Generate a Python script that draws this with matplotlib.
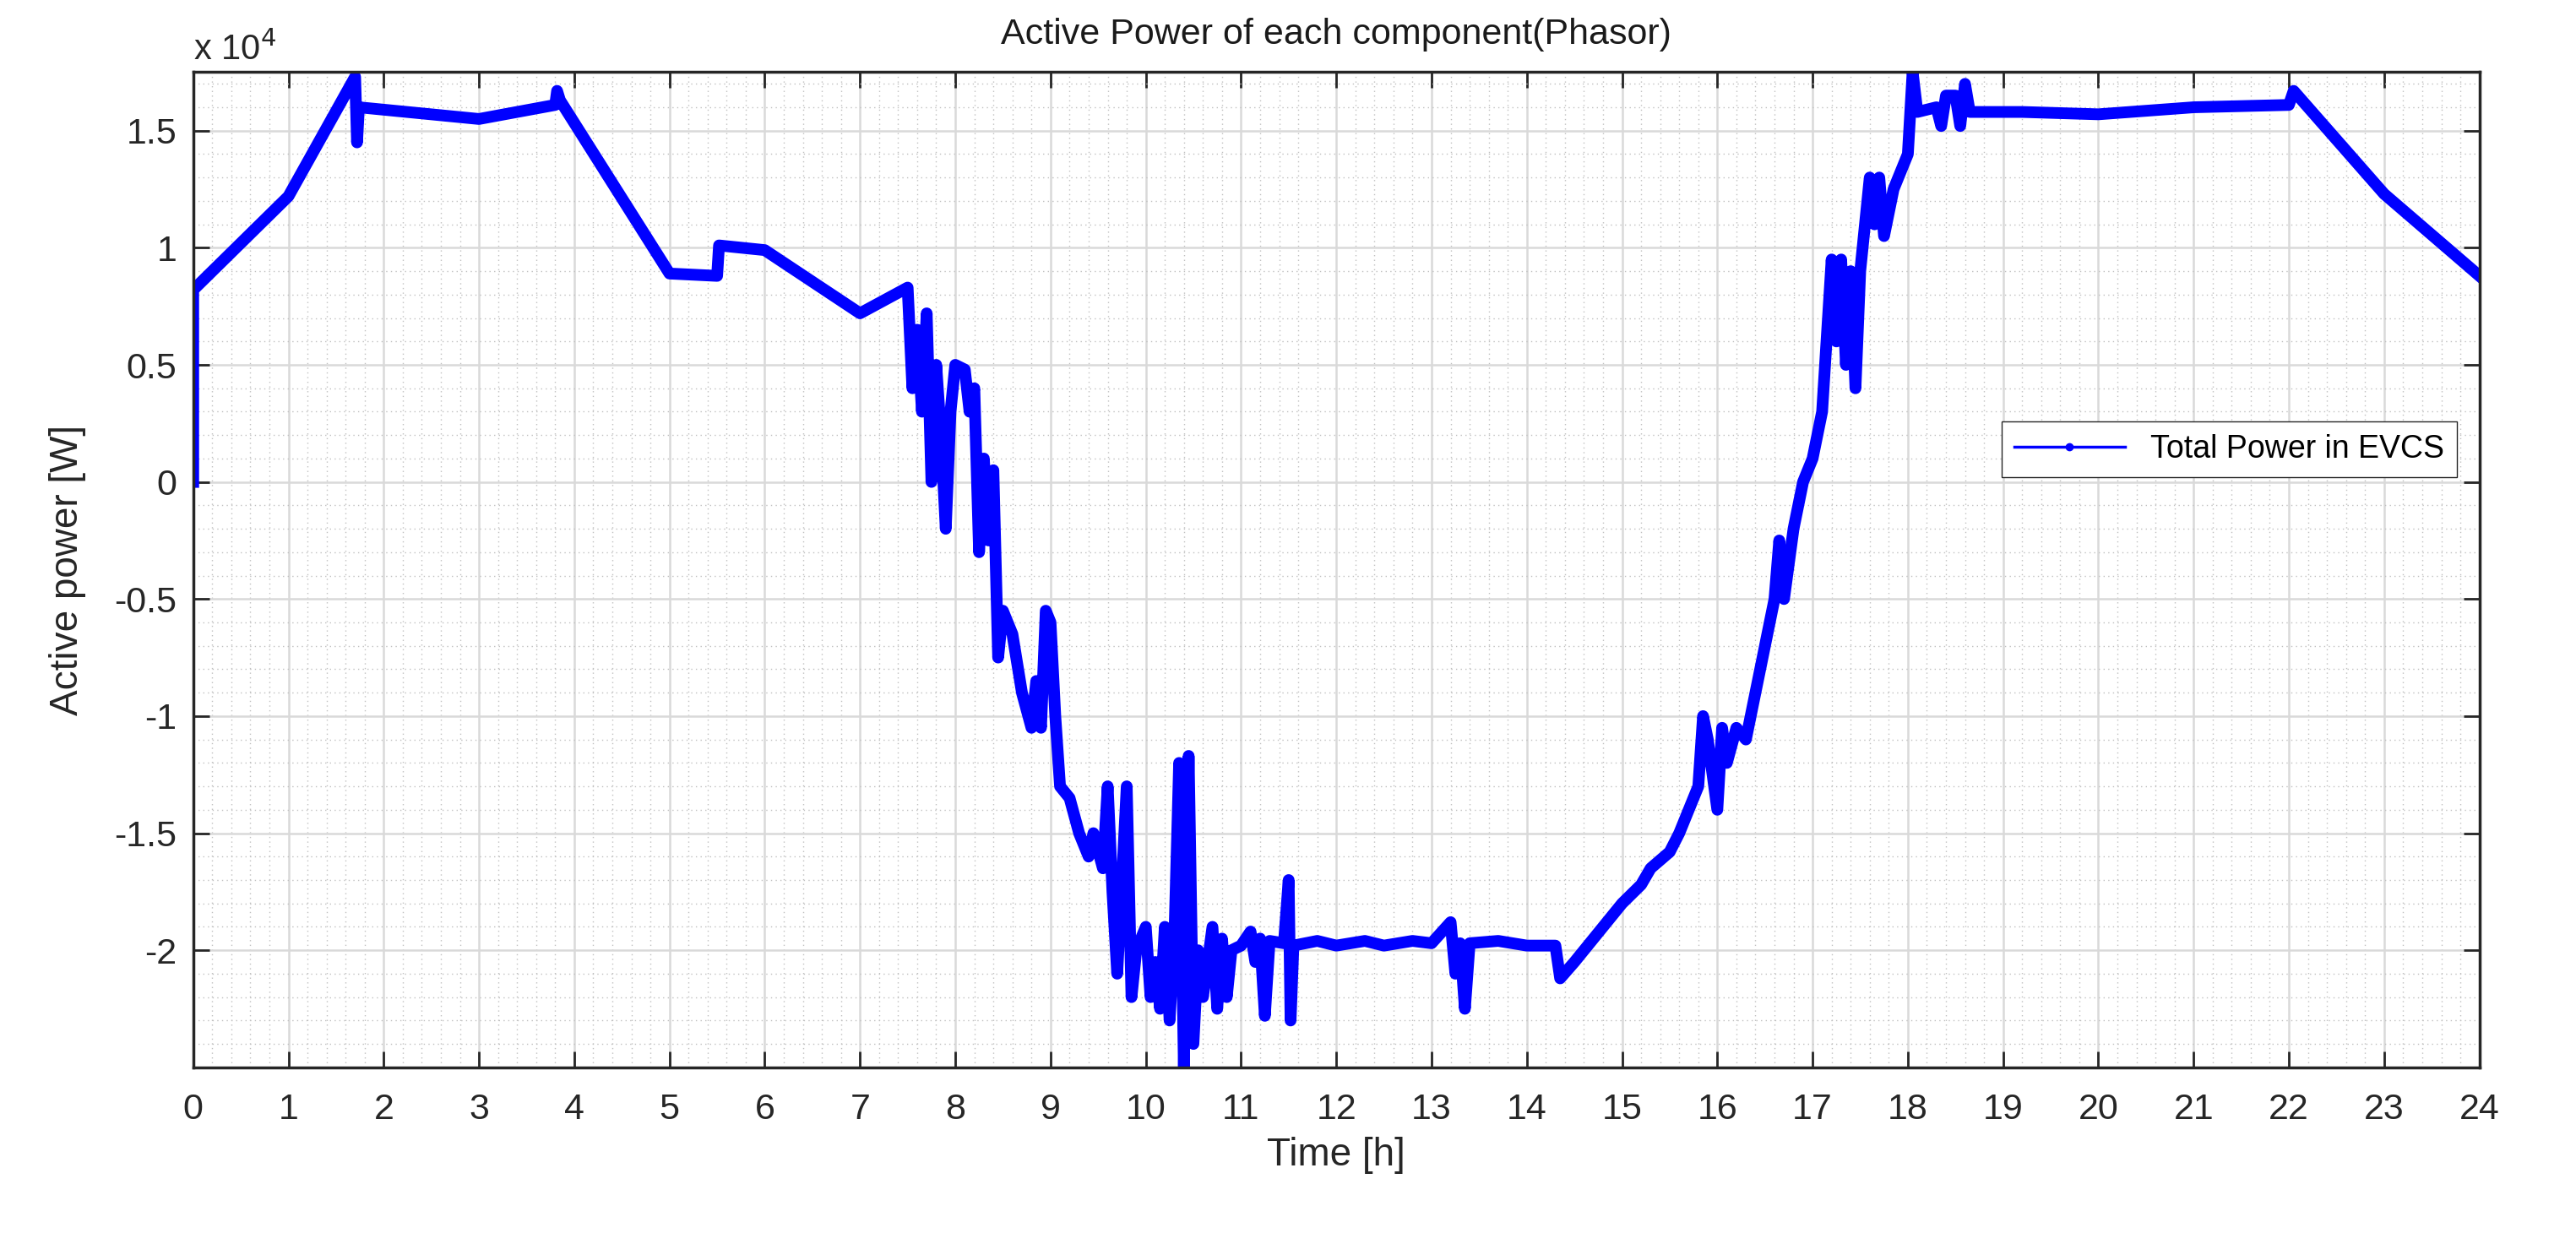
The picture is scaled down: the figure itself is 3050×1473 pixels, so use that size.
import matplotlib.pyplot as plt
from matplotlib.lines import Line2D
from matplotlib.ticker import MultipleLocator

plt.rcParams['font.family'] = ['Liberation Sans', 'DejaVu Sans']

# time [h] and total EVCS active power [W]
time_h = [0, 0, 1.0, 1.7, 1.72, 1.74, 3.0, 3.8, 3.82, 3.85, 5.0, 5.5, 5.52, 6.0, 7.0, 7.5,
          7.55, 7.6, 7.65, 7.7, 7.75, 7.8, 7.85, 7.9, 7.95, 8.0, 8.1, 8.15, 8.2, 8.25, 8.3,
          8.35, 8.4, 8.45, 8.5, 8.6, 8.7, 8.8, 8.85, 8.9, 8.95, 9.0, 9.05, 9.1, 9.2, 9.3,
          9.4, 9.45, 9.55, 9.6, 9.65, 9.7, 9.75, 9.8, 9.85, 9.9, 10.0, 10.05, 10.1, 10.15,
          10.2, 10.25, 10.3, 10.35, 10.4, 10.45, 10.5, 10.55, 10.6, 10.7, 10.75, 10.8, 10.85,
          10.9, 11.0, 11.1, 11.15, 11.2, 11.25, 11.3, 11.45, 11.5, 11.52, 11.55, 11.8, 12.0,
          12.3, 12.5, 12.8, 13.0, 13.2, 13.25, 13.3, 13.35, 13.4, 13.7, 14.0, 14.3, 14.35,
          14.5, 14.7, 15.0, 15.2, 15.3, 15.5, 15.6, 15.8, 15.85, 15.9, 16.0, 16.05, 16.1,
          16.2, 16.3, 16.4, 16.5, 16.6, 16.65, 16.7, 16.8, 16.9, 17.0, 17.1, 17.2, 17.25,
          17.3, 17.35, 17.4, 17.45, 17.5, 17.6, 17.65, 17.7, 17.75, 17.85, 18.0, 18.05, 18.1,
          18.3, 18.35, 18.4, 18.5, 18.55, 18.6, 18.65, 19.2, 20.0, 21.0, 22.0, 22.05, 23.0, 24.0]
power_w = [0, 8200, 12200, 17300, 14500, 16000, 15500, 16100, 16700, 16300, 8900, 8800,
           10100, 9900, 7200, 8300, 4000, 6500, 3000, 7200, 0, 5000, 2000, -2000, 3000, 5000,
           4800, 3000, 4000, -3000, 1000, -2500, 500, -7500, -5500, -6500, -9000, -10500,
           -8500, -10500, -5500, -6000, -10000, -13000, -13500, -15000, -16000, -15000,
           -16500, -13000, -17500, -21000, -17000, -13000, -22000, -20000, -19000, -22000,
           -20500, -22500, -19000, -23000, -19500, -12000, -25000, -11700, -24000, -20000,
           -22000, -19000, -22500, -19500, -22000, -20000, -19800, -19200, -20500, -19500,
           -22800, -19600, -19700, -17000, -23000, -19800, -19600, -19800, -19600, -19800,
           -19600, -19700, -18800, -21000, -19700, -22500, -19700, -19600, -19800, -19800,
           -21200, -20500, -19500, -18000, -17200, -16500, -15800, -15000, -13000, -10000,
           -11000, -14000, -10500, -12000, -10500, -11000, -9000, -7000, -5000, -2500, -5000,
           -2000, 0, 1000, 3000, 9500, 6000, 9500, 5000, 9000, 4000, 9000, 13000, 11000, 13000,
           10500, 12500, 14000, 17500, 15800, 16000, 15200, 16500, 16500, 15200, 17000, 15800,
           15800, 15700, 16000, 16100, 16700, 12300, 8800]

fig = plt.figure(figsize=(30.5, 14.73), dpi=100)
ax = fig.add_axes([0.075, 0.142, 0.8875, 0.80])

ax.plot(time_h, power_w, color='#0000ff', linewidth=10, solid_joinstyle='round')

ax.set_xlim(0, 24)
ax.set_ylim(-25000, 17500)
ax.xaxis.set_major_locator(MultipleLocator(1))
ax.xaxis.set_minor_locator(MultipleLocator(0.2))
ax.yaxis.set_minor_locator(MultipleLocator(1000))
ax.set_yticks([-20000, -15000, -10000, -5000, 0, 5000, 10000, 15000])
ax.set_yticklabels(['-2', '-1.5', '-1', '-0.5', '0', '0.5', '1', '1.5'])

ax.grid(True, which='major', color='#d9d9d9', linewidth=1.8)
ax.grid(True, which='minor', color='#c0c0c0', linewidth=1, linestyle=(0, (1, 3)))
ax.set_axisbelow(True)
ax.tick_params(which='both', direction='in', top=True, right=True, labelsize=31,
               colors='#262626', length=14, width=2)
ax.tick_params(axis='x', pad=22)
ax.tick_params(axis='y', pad=14)
ax.tick_params(which='minor', length=0)
for s in ax.spines.values():
    s.set_color('#262626')
    s.set_linewidth(2.5)

ax.text(0, 1.012, r'x 10$^4$', transform=ax.transAxes, fontsize=30, color='#262626')
ax.set_title('Active Power of each component(Phasor)', fontsize=31, pad=24, color='#1a1a1a')
ax.set_xlabel('Time [h]', fontsize=33, color='#262626', labelpad=8)
ax.set_ylabel('Active power [W]', fontsize=33, color='#262626', labelpad=24)
proxy = Line2D([], [], color='#0000ff', linewidth=2.5, marker='.', markersize=12)
ax.legend([proxy], ['Total Power in EVCS'], loc='upper right',
          bbox_to_anchor=(0.997, 0.665), fontsize=27, fancybox=False,
          edgecolor='#262626', framealpha=1, handlelength=3.5, borderpad=0.4)

fig.savefig('out.png')
